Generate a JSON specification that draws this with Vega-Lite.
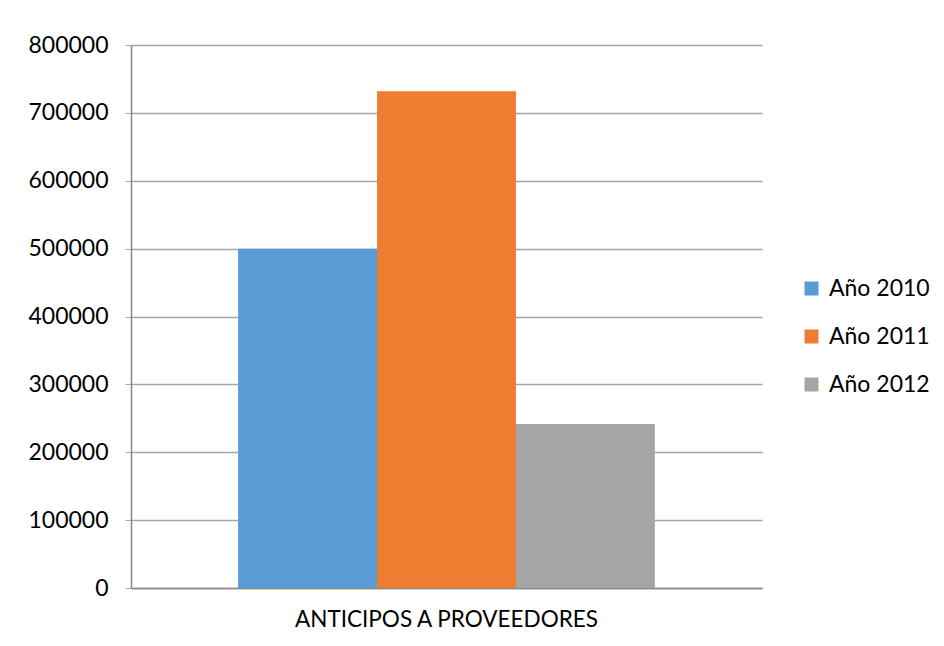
{
  "$schema": "https://vega.github.io/schema/vega-lite/v6.json",
  "width": 631,
  "height": 543,
  "autosize": {"type": "none"},
  "padding": {"left": 131, "top": 45, "right": 182, "bottom": 58},
  "background": "white",
  "data": {"values": [
    {"categoria": "ANTICIPOS A PROVEEDORES", "serie": "Año 2010", "valor": 500000},
    {"categoria": "ANTICIPOS A PROVEEDORES", "serie": "Año 2011", "valor": 732000},
    {"categoria": "ANTICIPOS A PROVEEDORES", "serie": "Año 2012", "valor": 241500}
  ]},
  "mark": {"type": "bar"},
  "encoding": {
    "x": {"field": "categoria", "type": "nominal",
      "scale": {"paddingInner": 0, "paddingOuter": 0.257},
      "axis": {"title": null, "labelAngle": 0, "labelLimit": 0, "labelFontSize": 22.5, "labelFont": "Lato", "labelColor": "#000000", "labelPadding": 20, "ticks": false, "domainColor": "#868686", "domainWidth": 1.5}},
    "xOffset": {"field": "serie", "type": "nominal", "scale": {"paddingInner": 0, "paddingOuter": 0}},
    "y": {"field": "valor", "type": "quantitative",
      "scale": {"domain": [0, 800000], "nice": false},
      "axis": {"title": null, "values": [0,100000,200000,300000,400000,500000,600000,700000,800000], "format": "d", "labelFontSize": 23, "labelFont": "Lato", "labelColor": "#000000", "labelPadding": 17, "tickSize": 6, "tickColor": "#a6a6a6", "gridColor": "#a6a6a6", "gridWidth": 1.3, "domainColor": "#868686", "domainWidth": 1.5}},
    "color": {"field": "serie", "type": "nominal",
      "scale": {"domain": ["Año 2010", "Año 2011", "Año 2012"], "range": ["#5B9BD5", "#ED7D31", "#A5A5A5"]},
      "legend": {"title": null, "orient": "none", "legendX": 669, "legendY": 232, "symbolType": "square", "symbolSize": 196, "symbolStrokeWidth": 0, "labelFontSize": 23, "labelFont": "Lato", "labelColor": "#000000", "rowPadding": 24, "labelOffset": 6}}
  },
  "config": {"view": {"stroke": null}}
}
